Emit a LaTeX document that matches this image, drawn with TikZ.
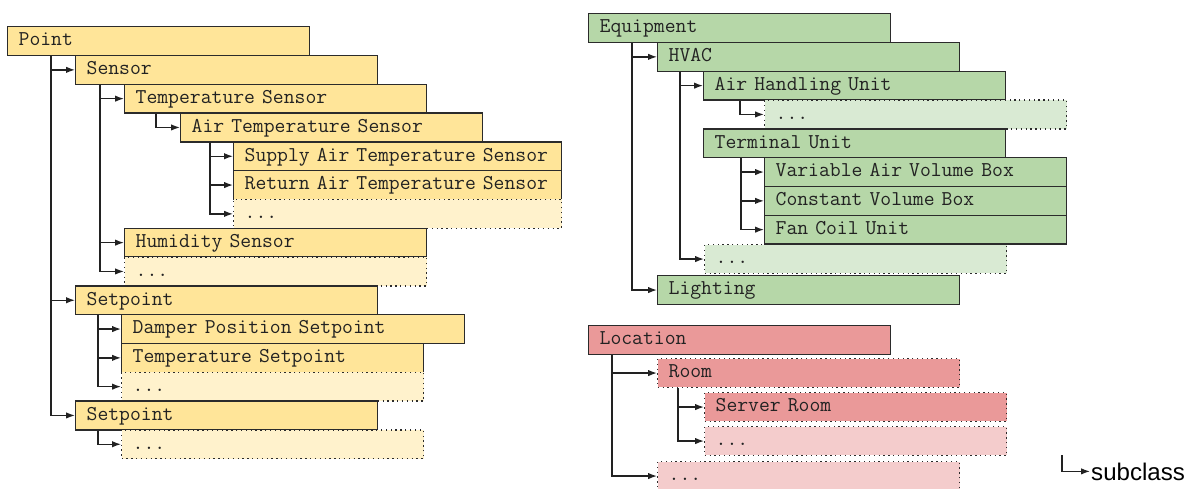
\documentclass[tikz,border=0pt]{standalone}
\usepackage{fontspec}
\newfontfamily\legendfont{Liberation Sans}
\usepackage{tikz}
\usetikzlibrary{arrows.meta}
\definecolor{ink}{HTML}{222222}
\definecolor{edge}{HTML}{2B2B2B}
\definecolor{ptfill}{HTML}{FFE599}
\definecolor{ptpale}{HTML}{FFF2CC}
\definecolor{eqfill}{HTML}{B6D7A8}
\definecolor{eqpale}{HTML}{D9EAD3}
\definecolor{locfill}{HTML}{EA9999}
\definecolor{locpale}{HTML}{F4CCCC}
\tikzset{
  box/.style={draw=edge, line width=0.75pt, anchor=north west, minimum height=0.576cm,
    inner xsep=0.22cm, inner ysep=0pt, text width=5.6cm, align=left,
    text height=7.8pt, text depth=2.2pt, font=\ttfamily\fontsize{12}{14}\selectfont, text=ink},
  more/.style={dotted},
  point/.style={box, fill=ptfill},
  pointmore/.style={box, more, fill=ptpale},
  equip/.style={box, fill=eqfill},
  equipmore/.style={box, more, fill=eqpale},
  loc/.style={box, fill=locfill},
  locmore/.style={box, more, fill=locpale},
  sub/.style={-{Latex[length=5pt,width=3.6pt]}, draw=ink, line width=0.75pt}
}

\begin{document}
\begin{tikzpicture}[x=0.02cm, y=-0.02cm]
  \useasboundingbox (0,0) rectangle (1189,489);

  % Point tree
  \node[point] (pt) at (7,26) {Point};
  \node[point] (sensor) at (75,54.8) {Sensor};
  \node[point] (tempsensor) at (124,83.6) {Temperature Sensor};
  \node[point] (airtemp) at (180,112.4) {Air Temperature Sensor};
  \node[point, text width=6.12cm] (supplyair) at (233,141.2) {Supply Air Temperature Sensor};
  \node[point, text width=6.12cm] (returnair) at (233,170) {Return Air Temperature Sensor};
  \node[pointmore, text width=6.12cm] (airtempmore) at (233,198.8) {...};
  \node[point] (humidity) at (124,227.6) {Humidity Sensor};
  \node[pointmore] (sensormore) at (124,256.4) {...};
  \node[point] (setpoint) at (75,285.2) {Setpoint};
  \node[point, text width=6.42cm] (damper) at (121,314) {Damper Position Setpoint};
  \node[point] (tempsetpoint) at (121,342.8) {Temperature Setpoint};
  \node[pointmore] (setpointmore) at (121,371.6) {...};
  \node[point] (setpointb) at (75,400.4) {Setpoint};
  \node[pointmore] (setpointbmore) at (121,429.2) {...};

  \draw[sub] ([xshift=0.88cm]pt.south west) |- (sensor.west);
  \draw[sub] ([xshift=0.88cm]pt.south west) |- (setpoint.west);
  \draw[sub] ([xshift=0.88cm]pt.south west) |- (setpointb.west);
  \draw[sub] ([xshift=0.5cm]sensor.south west) |- (tempsensor.west);
  \draw[sub] ([xshift=0.5cm]sensor.south west) |- (humidity.west);
  \draw[sub] ([xshift=0.5cm]sensor.south west) |- (sensormore.west);
  \draw[sub] ([xshift=0.64cm]tempsensor.south west) |- (airtemp.west);
  \draw[sub] ([xshift=0.6cm]airtemp.south west) |- (supplyair.west);
  \draw[sub] ([xshift=0.6cm]airtemp.south west) |- (returnair.west);
  \draw[sub] ([xshift=0.6cm]airtemp.south west) |- (airtempmore.west);
  \draw[sub] ([xshift=0.46cm]setpoint.south west) |- (damper.west);
  \draw[sub] ([xshift=0.46cm]setpoint.south west) |- (tempsetpoint.west);
  \draw[sub] ([xshift=0.46cm]setpoint.south west) |- (setpointmore.west);
  \draw[sub] ([xshift=0.46cm]setpointb.south west) |- (setpointbmore.west);

  % Equipment tree
  \node[equip] (equipment) at (588,13) {Equipment};
  \node[equip] (hvac) at (657,41.8) {HVAC};
  \node[equip] (ahu) at (703,70.6) {Air Handling Unit};
  \node[equipmore] (ahumore) at (764,99.4) {...};
  \node[equip] (terminal) at (703,128.2) {Terminal Unit};
  \node[equip] (vav) at (764,157) {Variable Air Volume Box};
  \node[equip] (cvb) at (764,185.8) {Constant Volume Box};
  \node[equip] (fcu) at (764,214.6) {Fan Coil Unit};
  \node[equipmore] (hvacmore) at (704,244) {...};
  \node[equip] (lighting) at (657,275) {Lighting};

  \draw[sub] ([xshift=0.88cm]equipment.south west) |- (hvac.west);
  \draw[sub] ([xshift=0.88cm]equipment.south west) |- (lighting.west);
  \draw[sub] ([xshift=0.46cm]hvac.south west) |- (ahu.west);
  \draw[sub] ([xshift=0.46cm]hvac.south west) |- (hvacmore.west);
  \draw[sub] ([xshift=0.74cm]ahu.south west) |- (ahumore.west);
  \draw[sub] ([xshift=0.76cm]terminal.south west) |- (vav.west);
  \draw[sub] ([xshift=0.76cm]terminal.south west) |- (cvb.west);
  \draw[sub] ([xshift=0.76cm]terminal.south west) |- (fcu.west);

  % Location tree
  \node[loc] (location) at (588,325) {Location};
  \node[loc, more] (room) at (657,358) {Room};
  \node[loc, more] (server) at (704,392) {Server Room};
  \node[locmore] (roommore) at (704,426) {...};
  \node[locmore] (locationmore) at (657,461) {...};

  \draw[sub] ([xshift=0.48cm]location.south west) |- (room.west);
  \draw[sub] ([xshift=0.48cm]location.south west) |- (locationmore.west);
  \draw[sub] ([xshift=0.42cm]room.south west) |- (server.west);
  \draw[sub] ([xshift=0.42cm]room.south west) |- (roommore.west);

  % legend
  \coordinate (legtop) at (1062,455);
  \node[anchor=base west, inner xsep=0.5pt, inner ysep=0pt, font=\legendfont\fontsize{13.7}{16}\selectfont]
    (legend) at (1090,480) {subclass};
  \draw[sub] (legtop) |- (legend.west);
\end{tikzpicture}
\end{document}
